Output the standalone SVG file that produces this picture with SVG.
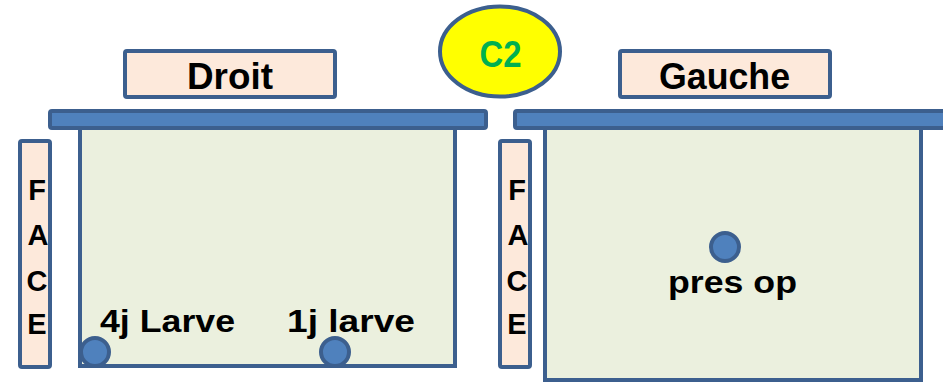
<svg xmlns="http://www.w3.org/2000/svg" width="943" height="383" viewBox="0 0 943 383">
<style>
.bar{fill:#4f81bd;stroke:#3c5f8e;stroke-width:4}
.box{fill:#ebf0de;stroke:#3c5f8e;stroke-width:4}
.lab{fill:#fde9db;stroke:#3c5f8e;stroke-width:4}
.dot{fill:#4f81bd;stroke:#3c5f8e;stroke-width:4}
text{font-family:"Liberation Sans",Arial,sans-serif;font-weight:bold;fill:#000}
.big{font-size:36px}
.mid{font-size:32px}
.face{font-size:29px;text-anchor:middle}
</style>
<rect width="943" height="383" fill="#fff"/>
<g id="droit-label"><rect class="lab" x="125" y="51" width="210" height="46" rx="2"/><text class="big" x="187" y="89" textLength="86" lengthAdjust="spacingAndGlyphs">Droit</text></g>
<g id="gauche-label"><rect class="lab" x="620" y="51" width="210" height="46" rx="2"/><text class="big" x="659" y="89" textLength="131" lengthAdjust="spacingAndGlyphs">Gauche</text></g>
<g id="c2"><ellipse cx="500" cy="51.5" rx="60" ry="45" fill="#ffff00" stroke="#3c5f8e" stroke-width="4"/><text class="big" x="500.5" y="67" text-anchor="middle" style="fill:#00b050;font-size:37px" textLength="42" lengthAdjust="spacingAndGlyphs">C2</text></g>
<g id="left-box"><rect class="box" x="80" y="127" width="375" height="239"/></g>
<g id="left-bar"><rect class="bar" x="50" y="111" width="436" height="17" rx="2"/></g>
<g id="right-box"><rect class="box" x="545" y="127" width="376" height="253"/></g>
<g id="right-bar"><rect class="bar" x="515" y="111" width="440" height="17" rx="2"/></g>
<g id="left-face"><rect class="lab" x="20" y="141" width="30" height="226" rx="2"/>
<text class="face" x="37" y="200">F</text><text class="face" x="38" y="245">A</text><text class="face" x="37" y="291">C</text><text class="face" x="37" y="334">E</text></g>
<g id="right-face"><rect class="lab" x="500" y="141" width="30" height="226" rx="2"/>
<text class="face" x="517" y="200">F</text><text class="face" x="518" y="245">A</text><text class="face" x="517" y="291">C</text><text class="face" x="517" y="334">E</text></g>
<g id="larve4"><circle class="dot" cx="95" cy="352" r="14"/><text class="mid" x="100" y="332" textLength="135" lengthAdjust="spacingAndGlyphs">4j Larve</text></g>
<g id="larve1"><circle class="dot" cx="335" cy="352" r="14"/><text class="mid" x="287" y="332" textLength="128" lengthAdjust="spacingAndGlyphs">1j larve</text></g>
<g id="presop"><circle class="dot" cx="725" cy="247" r="14"/><text class="mid" x="668" y="293" textLength="129" lengthAdjust="spacingAndGlyphs">pres op</text></g>
<g id="connectors"></g>
</svg>
